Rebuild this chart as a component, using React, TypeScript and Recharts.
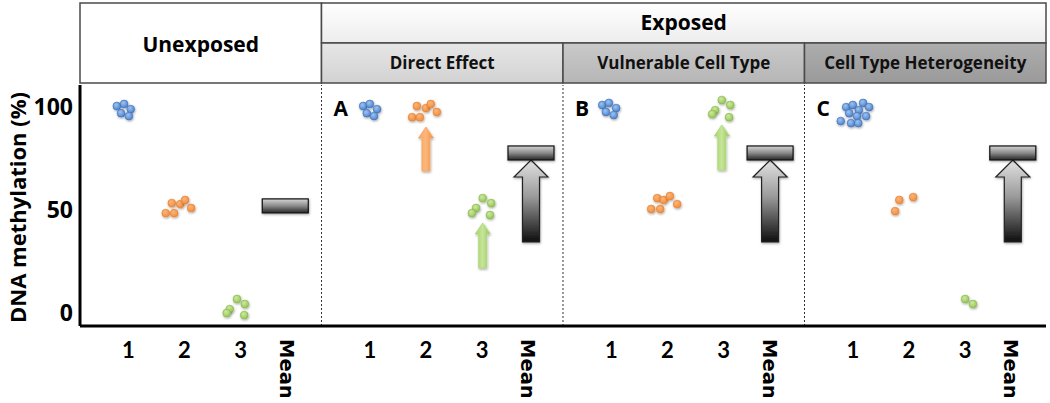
import React from 'react';
import { ScatterChart, Scatter, XAxis, YAxis, ReferenceLine, Customized } from 'recharts';

// ---------- data ----------
const xTickPositions = [0.8, 1.73, 2.66, 3.42, 4.8, 5.73, 6.66, 7.42, 8.8, 9.73, 10.66, 11.42, 12.8, 13.73, 14.66, 15.42];
const xTickLabels = ['1', '2', '3', 'Mean', '1', '2', '3', 'Mean', '1', '2', '3', 'Mean', '1', '2', '3', 'Mean'];
const yTicks = [0, 50, 100];
const panelBoundaries = [4, 8, 12];
const headerMain = ['Unexposed', 'Exposed'];
const headerSub = ['Direct Effect', 'Vulnerable Cell Type', 'Cell Type Heterogeneity'];
const panelLetters = ['A', 'B', 'C'];

// cell type 1 (blue)
const blueDots = [
  { x: 0.61, y: 100.5 }, { x: 0.73, y: 101.5 }, { x: 0.84, y: 99 }, { x: 0.68, y: 97 }, { x: 0.81, y: 95.6 },
  { x: 4.69, y: 100.5 }, { x: 4.8, y: 101.5 }, { x: 4.92, y: 99 }, { x: 4.75, y: 97 }, { x: 4.87, y: 95.6 },
  { x: 8.65, y: 101 }, { x: 8.76, y: 102 }, { x: 8.88, y: 99.5 }, { x: 8.71, y: 97.6 }, { x: 8.84, y: 96.1 },
  { x: 12.69, y: 100 }, { x: 12.8, y: 101 }, { x: 12.97, y: 102 }, { x: 13.07, y: 100 }, { x: 12.9, y: 98.5 },
  { x: 12.74, y: 97 }, { x: 12.87, y: 95.6 }, { x: 13.02, y: 95.6 }, { x: 12.6, y: 93.2 }, { x: 12.77, y: 92.2 },
  { x: 12.89, y: 92.2 },
];
// cell type 2 (orange)
const orangeDots = [
  { x: 1.42, y: 48.5 }, { x: 1.56, y: 48.5 }, { x: 1.52, y: 53.4 }, { x: 1.66, y: 52.9 }, { x: 1.74, y: 54.9 }, { x: 1.84, y: 51 },
  { x: 5.58, y: 100.5 }, { x: 5.73, y: 99.5 }, { x: 5.81, y: 101.5 }, { x: 5.91, y: 97.6 }, { x: 5.5, y: 95.1 }, { x: 5.63, y: 95.1 },
  { x: 9.56, y: 55.8 }, { x: 9.67, y: 54.9 }, { x: 9.77, y: 56.8 }, { x: 9.89, y: 52.9 }, { x: 9.46, y: 50.5 }, { x: 9.61, y: 50.5 },
  { x: 13.57, y: 54.9 }, { x: 13.8, y: 56.3 }, { x: 13.5, y: 49.5 },
];
// cell type 3 (green)
const greenDots = [
  { x: 2.6, y: 6.8 }, { x: 2.73, y: 4.4 }, { x: 2.48, y: 1.9 }, { x: 2.43, y: 0 }, { x: 2.72, y: -1 },
  { x: 6.67, y: 55.8 }, { x: 6.81, y: 53.4 }, { x: 6.56, y: 51 }, { x: 6.49, y: 48.5 }, { x: 6.79, y: 47.6 },
  { x: 10.63, y: 103.4 }, { x: 10.77, y: 101 }, { x: 10.52, y: 98.5 }, { x: 10.47, y: 96.6 }, { x: 10.75, y: 95.1 },
  { x: 14.66, y: 6.8 }, { x: 14.79, y: 4.4 },
];
// mean methylation per panel
const meanBars = [
  { x: 3.4, y: 52 }, { x: 7.47, y: 77.7 }, { x: 11.43, y: 77.7 }, { x: 15.45, y: 77.7 },
];
// change arrows (from -> to)
const colorArrows = [
  { x: 5.73, from: 68.9, to: 90.3, kind: 'orange' },
  { x: 6.67, from: 21.8, to: 43.7, kind: 'green' },
  { x: 10.63, from: 69.4, to: 91.3, kind: 'green' },
];
const meanArrows = [
  { x: 7.47, from: 34.5, to: 74.3 },
  { x: 11.43, from: 34.5, to: 74.3 },
  { x: 15.45, from: 34.5, to: 74.3 },
];

// ---------- layout ----------
const W = 1050;
const H = 403;
const PLOT_LEFT = 80;
const PLOT_RIGHT = 1046;
const PLOT_TOP = 85;
const PANEL_W = (PLOT_RIGHT - PLOT_LEFT) / 4;
const FONT = '"Open Sans", Lato, sans-serif';
const NUM_FONT = 'Lato, "Open Sans", sans-serif';

const Defs = () => (
  <defs>
    <radialGradient id="gBlue" cx="40%" cy="35%" r="70%">
      <stop offset="0%" stopColor="#9cc3f2" />
      <stop offset="100%" stopColor="#4a80cc" />
    </radialGradient>
    <radialGradient id="gOrange" cx="40%" cy="35%" r="70%">
      <stop offset="0%" stopColor="#fbb57a" />
      <stop offset="100%" stopColor="#f38a38" />
    </radialGradient>
    <radialGradient id="gGreen" cx="40%" cy="35%" r="70%">
      <stop offset="0%" stopColor="#cde9a0" />
      <stop offset="100%" stopColor="#93c451" />
    </radialGradient>
    <linearGradient id="gBar" x1="0" y1="0" x2="0" y2="1">
      <stop offset="0%" stopColor="#d6d6d6" />
      <stop offset="50%" stopColor="#8a8a8a" />
      <stop offset="100%" stopColor="#262626" />
    </linearGradient>
    <linearGradient id="gGrayArrow" x1="0" y1="0" x2="0" y2="1">
      <stop offset="0%" stopColor="#e2e2e2" />
      <stop offset="45%" stopColor="#9a9a9a" />
      <stop offset="100%" stopColor="#0e0e0e" />
    </linearGradient>
    <linearGradient id="gOrangeArrow" x1="0" y1="0" x2="1" y2="0">
      <stop offset="0%" stopColor="#f9a560" />
      <stop offset="50%" stopColor="#fbb77c" />
      <stop offset="100%" stopColor="#f58b38" />
    </linearGradient>
    <linearGradient id="gGreenArrow" x1="0" y1="0" x2="1" y2="0">
      <stop offset="0%" stopColor="#a6d263" />
      <stop offset="50%" stopColor="#c6e59a" />
      <stop offset="100%" stopColor="#96c650" />
    </linearGradient>
    <linearGradient id="gSub1" x1="0" y1="0" x2="0" y2="1">
      <stop offset="0%" stopColor="#e6e6e6" />
      <stop offset="100%" stopColor="#d2d2d2" />
    </linearGradient>
    <linearGradient id="gSub2" x1="0" y1="0" x2="0" y2="1">
      <stop offset="0%" stopColor="#c9c9c9" />
      <stop offset="100%" stopColor="#b6b6b6" />
    </linearGradient>
    <linearGradient id="gSub3" x1="0" y1="0" x2="0" y2="1">
      <stop offset="0%" stopColor="#adadad" />
      <stop offset="100%" stopColor="#9a9a9a" />
    </linearGradient>
    <linearGradient id="gTop" x1="0" y1="0" x2="0" y2="1">
      <stop offset="0%" stopColor="#ffffff" />
      <stop offset="100%" stopColor="#ededed" />
    </linearGradient>
    <filter id="shadow" x="-50%" y="-50%" width="200%" height="200%">
      <feDropShadow dx="0.6" dy="1.2" stdDeviation="0.9" floodColor="#000" floodOpacity="0.35" />
    </filter>
  </defs>
);

const Header = () => {
  const top = 3;
  const mid = 43;
  const bottom = 83;
  const subFills = ['url(#gSub1)', 'url(#gSub2)', 'url(#gSub3)'];
  return (
    <g>
      <Defs />
      <rect x={PLOT_LEFT} y={top} width={PANEL_W} height={bottom - top} fill="#fff" stroke="#4a4a4a" strokeWidth={1.5} />
      <text x={PLOT_LEFT + PANEL_W / 2} y={52} textAnchor="middle" fontFamily={FONT} fontWeight={700} fontSize={21} fill="#000">
        {headerMain[0]}
      </text>
      <rect x={PLOT_LEFT + PANEL_W} y={top} width={PANEL_W * 3} height={mid - top} fill="url(#gTop)" stroke="#4a4a4a" strokeWidth={1.5} />
      <text x={PLOT_LEFT + PANEL_W * 2.5} y={30} textAnchor="middle" fontFamily={FONT} fontWeight={700} fontSize={21} fill="#000">
        {headerMain[1]}
      </text>
      {headerSub.map((s, i) => (
        <g key={s}>
          <rect x={PLOT_LEFT + PANEL_W * (i + 1)} y={mid} width={PANEL_W} height={bottom - mid} fill={subFills[i]} stroke="#4a4a4a" strokeWidth={1.5} />
          <text x={PLOT_LEFT + PANEL_W * (i + 1.5)} y={69} textAnchor="middle" fontFamily={FONT} fontWeight={700} fontSize={17} fill="#111">
            {s}
          </text>
        </g>
      ))}
      {panelLetters.map((l, i) => (
        <text key={l} x={PLOT_LEFT + PANEL_W * (i + 1) + 12} y={116} fontFamily={FONT} fontWeight={700} fontSize={21} fill="#000">
          {l}
        </text>
      ))}
      <text
        transform={`translate(26, ${(PLOT_TOP + 330) / 2}) rotate(-90)`}
        textAnchor="middle"
        fontFamily={FONT}
        fontWeight={700}
        fontSize={22}
        fill="#000"
      >
        DNA methylation (%)
      </text>
    </g>
  );
};

const XTick = (props: any) => {
  const { x, y, payload } = props;
  const idx = xTickPositions.findIndex((p) => Math.abs(p - payload.value) < 1e-6);
  const label = idx >= 0 ? xTickLabels[idx] : '';
  if (label === 'Mean') {
    return (
      <text
        transform={`translate(${x}, ${y + 13}) rotate(90)`}
        textAnchor="start"
        dominantBaseline="central"
        fontFamily='"DejaVu Sans", sans-serif'
        fontWeight={700}
        fontSize={19.5}
        fill="#000"
      >
        {label}
      </text>
    );
  }
  return (
    <text x={x} y={y + 32} textAnchor="middle" fontFamily={NUM_FONT} fontWeight={700} fontSize={22} fill="#000">
      {label}
    </text>
  );
};

const YTick = (props: any) => {
  const { x, y, payload } = props;
  return (
    <text x={x - 1} y={y + 8} textAnchor="end" fontFamily={FONT} fontWeight={700} fontSize={23} fill="#000">
      {payload.value}
    </text>
  );
};

const dotShape = (fill: string, stroke: string) => (p: any) => (
  <circle cx={p.cx} cy={p.cy} r={3.9} fill={fill} stroke={stroke} strokeWidth={0.6} filter="url(#shadow)" />
);

const barShape = (p: any) => (
  <rect x={p.cx - 23} y={p.cy - 7} width={46} height={14} fill="url(#gBar)" stroke="#111" strokeWidth={1.2} filter="url(#shadow)" />
);

const arrowShape = (headW: number, headL: number, shaftW: number, fill: string, stroke: string, sw: number) => (p: any) => {
  const x = p.x1;
  const yBottom = Math.max(p.y1, p.y2);
  const yTip = Math.min(p.y1, p.y2);
  const yHead = yTip + headL;
  const pts = [
    [x, yTip],
    [x + headW / 2, yHead],
    [x + shaftW / 2, yHead],
    [x + shaftW / 2, yBottom],
    [x - shaftW / 2, yBottom],
    [x - shaftW / 2, yHead],
    [x - headW / 2, yHead],
  ]
    .map((q) => q.join(','))
    .join(' ');
  return <polygon points={pts} fill={fill} stroke={stroke} strokeWidth={sw} strokeLinejoin="miter" filter="url(#shadow)" />;
};

export default function App() {
  return (
    <div style={{ position: 'absolute', left: 0, top: 0, width: W, height: H, background: '#fff' }}>
      <ScatterChart width={W} height={H} margin={{ top: PLOT_TOP, right: W - PLOT_RIGHT, bottom: 0, left: 0 }}>
        <Customized component={Header} />
        <XAxis
          type="number"
          dataKey="x"
          domain={[0, 16]}
          ticks={xTickPositions}
          interval={0}
          allowDataOverflow
          height={77}
          tickLine={false}
          tickSize={0}
          tickMargin={0}
          axisLine={{ stroke: '#000', strokeWidth: 3 }}
          tick={<XTick />}
        />
        <YAxis
          type="number"
          dataKey="y"
          domain={[-6.3, 110.7]}
          ticks={yTicks}
          allowDataOverflow
          width={PLOT_LEFT}
          tickLine={false}
          tickSize={0}
          tickMargin={6}
          axisLine={{ stroke: '#000', strokeWidth: 3 }}
          tick={<YTick />}
        />
        {panelBoundaries.map((b) => (
          <ReferenceLine key={b} x={b} stroke="#333" strokeWidth={1} strokeDasharray="2 2" />
        ))}
        {meanArrows.map((a, i) => (
          <ReferenceLine
            key={'m' + i}
            segment={[{ x: a.x, y: a.from }, { x: a.x, y: a.to }]}
            shape={arrowShape(34, 17, 17, 'url(#gGrayArrow)', '#222', 1.2)}
          />
        ))}
        {colorArrows.map((a, i) => (
          <ReferenceLine
            key={'c' + i}
            segment={[{ x: a.x, y: a.from }, { x: a.x, y: a.to }]}
            shape={
              a.kind === 'orange'
                ? arrowShape(15, 11, 8, 'url(#gOrangeArrow)', '#f7a565', 0.8)
                : arrowShape(15, 11, 8, 'url(#gGreenArrow)', '#b0d77a', 0.8)
            }
          />
        ))}
        <Scatter data={meanBars} isAnimationActive={false} shape={barShape} />
        <Scatter data={blueDots} isAnimationActive={false} shape={dotShape('url(#gBlue)', '#3a6db5')} />
        <Scatter data={orangeDots} isAnimationActive={false} shape={dotShape('url(#gOrange)', '#e47f30')} />
        <Scatter data={greenDots} isAnimationActive={false} shape={dotShape('url(#gGreen)', '#86b646')} />
      </ScatterChart>
    </div>
  );
}
